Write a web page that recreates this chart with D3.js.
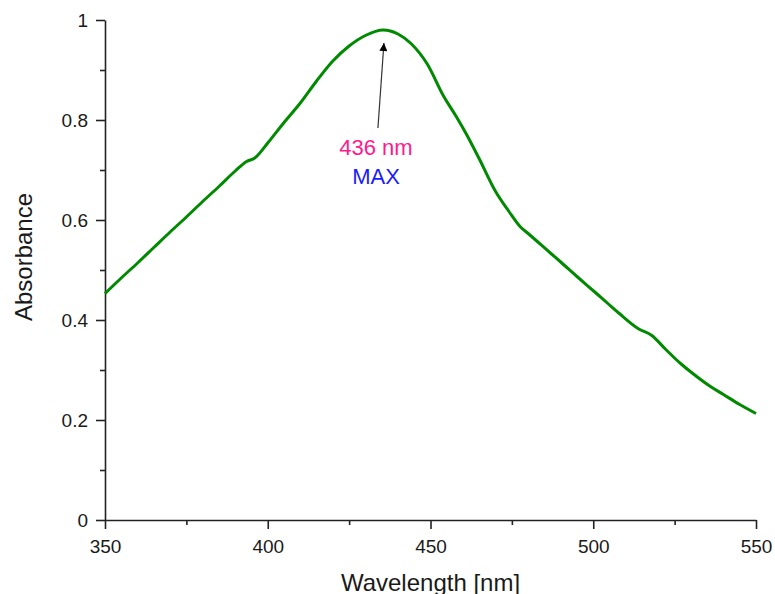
<!DOCTYPE html>
<html>
<head>
<meta charset="utf-8">
<script src="https://cdn.jsdelivr.net/npm/d3@7"></script>
<style>
    body { margin: 0; background: #fff; }
    text { font-family: "Liberation Sans", Arial, sans-serif; }
</style>
</head>
<body>
<div id="chart"></div>
<script>
// spectrum
const wavelengths = [350, 355, 360, 365, 370, 375, 380, 385, 390, 393.5, 396, 400, 405, 410, 415, 420, 425, 430, 435.5, 440, 444, 449, 454, 458, 461, 465, 470, 474, 477.5, 480, 487, 490, 495, 501, 505, 508, 514, 518, 522, 527, 530, 536, 540, 545, 550];
const absorbance = [0.453, 0.484, 0.514, 0.545, 0.576, 0.606, 0.637, 0.667, 0.698, 0.717, 0.724, 0.754, 0.795, 0.834, 0.878, 0.918, 0.948, 0.969, 0.980, 0.972, 0.953, 0.912, 0.848, 0.806, 0.772, 0.722, 0.657, 0.618, 0.587, 0.573, 0.533, 0.516, 0.487, 0.453, 0.430, 0.413, 0.382, 0.369, 0.343, 0.312, 0.296, 0.267, 0.251, 0.231, 0.213];

const xTicks = [350, 400, 450, 500, 550];
const xMinorTicks = [375, 425, 475, 525];
const yTicks = [0, 0.2, 0.4, 0.6, 0.8, 1];
const yMinorTicks = [0.1, 0.3, 0.5, 0.7, 0.9];

const peakWavelength = 436;
const peakAbsorbance = 0.98;

const width = 775, height = 594;
const margin = { top: 20, right: 19, bottom: 74, left: 105 };

const svg = d3.select("#chart")
    .append("svg")
    .attr("width", width)
    .attr("height", height);

let x = d3.scaleLinear()
    .domain([350, 550])
    .range([margin.left, width - margin.right]);

let y = d3.scaleLinear()
    .domain([0, 1])
    .range([height - margin.bottom, margin.top]);

const axisColor = "#222";

// minor ticks first, majors on top
svg.append("g")
    .attr("transform", "translate(0," + y(0) + ")")
    .call(d3.axisBottom(x).tickValues(xMinorTicks).tickSize(5).tickFormat(""))
    .call(g => g.select(".domain").remove());

svg.append("g")
    .attr("transform", "translate(" + x(350) + ",0)")
    .call(d3.axisLeft(y).tickValues(yMinorTicks).tickSize(5).tickFormat(""))
    .call(g => g.select(".domain").remove());

let xAxis = svg.append("g")
    .attr("transform", "translate(0," + y(0) + ")")
    .call(d3.axisBottom(x).tickValues(xTicks).tickSize(9).tickSizeOuter(0).tickPadding(11).tickFormat(d => String(d)));

let yAxis = svg.append("g")
    .attr("transform", "translate(" + x(350) + ",0)")
    .call(d3.axisLeft(y).tickValues(yTicks).tickSize(9).tickSizeOuter(0).tickPadding(8).tickFormat(d => String(d)));

svg.selectAll(".tick line, .domain")
    .attr("stroke", axisColor)
    .attr("stroke-width", 1.6);

svg.selectAll(".tick text")
    .attr("fill", "#1a1a1a")
    .style("font-size", "19px")
    .style("font-family", "'Liberation Sans', Arial, sans-serif");

// axis titles (the reference crops the x title at the bottom edge)
svg.append("text")
    .attr("x", (x(350) + x(550)) / 2)
    .attr("y", 591)
    .attr("text-anchor", "middle")
    .attr("fill", "#1a1a1a")
    .style("font-size", "24px")
    .text("Wavelength [nm]");

svg.append("text")
    .attr("transform", "translate(32,257) rotate(-90)")
    .attr("text-anchor", "middle")
    .attr("fill", "#1a1a1a")
    .style("font-size", "24px")
    .text("Absorbance");

// spectrum line
const points = wavelengths.map((w, i) => [w, absorbance[i]]);

svg.append("path")
    .datum(points)
    .attr("fill", "none")
    .attr("stroke", "#008a00")
    .attr("stroke-width", 3)
    .attr("stroke-linejoin", "round")
    .attr("d", d3.line()
        .x(d => x(d[0]))
        .y(d => y(d[1]))
        .curve(d3.curveMonotoneX));

// arrow marker pointing at the maximum
svg.append("defs")
    .append("marker")
    .attr("id", "arrowhead")
    .attr("viewBox", "0 0 10 10")
    .attr("refX", 10)
    .attr("refY", 5)
    .attr("markerWidth", 13)
    .attr("markerHeight", 8)
    .attr("markerUnits", "userSpaceOnUse")
    .attr("orient", "auto")
    .append("path")
    .attr("d", "M0,0 L10,5 L0,10 Z")
    .attr("fill", "#000");

svg.append("line")
    .attr("x1", x(peakWavelength) - 7)
    .attr("y1", 128)
    .attr("x2", x(peakWavelength) - 1)
    .attr("y2", y(peakAbsorbance) + 13)
    .attr("stroke", "#333")
    .attr("stroke-width", 1.2)
    .attr("marker-end", "url(#arrowhead)");

svg.append("text")
    .attr("x", 376)
    .attr("y", 155)
    .attr("text-anchor", "middle")
    .attr("fill", "#ff1a8c")
    .style("font-size", "22px")
    .text(peakWavelength + " nm");

svg.append("text")
    .attr("x", 376)
    .attr("y", 184)
    .attr("text-anchor", "middle")
    .attr("fill", "#1a1aff")
    .style("font-size", "22px")
    .text("MAX");
</script>
</body>
</html>
